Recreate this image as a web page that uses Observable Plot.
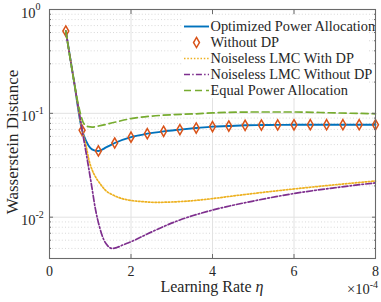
<!DOCTYPE html>
<html>
<head>
<meta charset="utf-8">
<script src="https://cdn.jsdelivr.net/npm/d3@7"></script>
<script src="https://cdn.jsdelivr.net/npm/@observablehq/plot@0.6"></script>
<style>
  html, body { margin: 0; padding: 0; background: white; }
</style>
</head>
<body>
<div id="chart"></div>
<script>
// ---- data (learning rate in units of 1e-4) ----
const optX = [0.4, 0.6, 0.8, 0.9, 1.0, 1.1, 1.2, 1.4, 1.6, 2.0, 2.4, 2.8, 3.2, 3.6, 4.0, 4.4, 4.8, 5.2, 5.6, 6.0, 6.4, 6.8, 7.2, 7.6, 8.0];
const optY = [0.62, 0.205, 0.0687, 0.054, 0.0465, 0.0440, 0.0434, 0.0472, 0.0518, 0.059, 0.0637, 0.0671, 0.0697, 0.0722, 0.0745, 0.0755, 0.0767, 0.0771, 0.0774, 0.0776, 0.0777, 0.0777, 0.0777, 0.0777, 0.0776];

const noDpX = [0.4, 0.8, 1.2, 1.6, 2.0, 2.4, 2.8, 3.2, 3.6, 4.0, 4.4, 4.8, 5.2, 5.6, 6.0, 6.4, 6.8, 7.2, 7.6, 8.0];
const noDpY = [0.62, 0.0687, 0.0434, 0.0518, 0.059, 0.0637, 0.0671, 0.0697, 0.0722, 0.0745, 0.0755, 0.0767, 0.0771, 0.0774, 0.0776, 0.0777, 0.0777, 0.0777, 0.0777, 0.0776];

const lmcDpX = [0.4, 0.6, 0.8, 0.9, 0.97, 1.05, 1.13, 1.25, 1.37, 1.55, 1.78, 2.0, 2.3, 2.6, 3.0, 3.5, 4.0, 4.5, 5.0, 5.5, 6.0, 6.5, 7.0, 7.5, 8.0];
const lmcDpY = [0.62, 0.205, 0.0694, 0.048, 0.0353, 0.0283, 0.0244, 0.0208, 0.0182, 0.0164, 0.0151, 0.0145, 0.0141, 0.0139, 0.0140, 0.0144, 0.0151, 0.0160, 0.0169, 0.0178, 0.0187, 0.0196, 0.0205, 0.0214, 0.0223];

const lmcX = [0.4, 0.6, 0.8, 0.93, 1.03, 1.13, 1.23, 1.33, 1.43, 1.54, 1.65, 1.8, 2.0, 2.3, 2.6, 3.2, 4.0, 5.0, 6.0, 7.0, 8.0];
const lmcY = [0.62, 0.205, 0.0694, 0.0353, 0.0205, 0.0118, 0.0080, 0.0061, 0.0053, 0.0050, 0.0051, 0.0054, 0.0058, 0.0066, 0.0075, 0.0094, 0.0117, 0.0143, 0.0169, 0.0192, 0.0214];

const eqX = [0.4, 0.6, 0.7, 0.76, 0.84, 0.95, 1.05, 1.2, 1.6, 2.0, 2.5, 3.0, 3.6, 4.0, 5.0, 6.0, 7.0, 8.0];
const eqY = [0.62, 0.205, 0.125, 0.099, 0.080, 0.0745, 0.0738, 0.0755, 0.082, 0.089, 0.094, 0.097, 0.099, 0.101, 0.103, 0.103, 0.101, 0.099];

const xTicks = [0, 2, 4, 6, 8];
const yMajor = [1, 0.1, 0.01];
const yMinor = [0.004, 0.005, 0.006, 0.007, 0.008, 0.009,
                0.02, 0.03, 0.04, 0.05, 0.06, 0.07, 0.08, 0.09,
                0.2, 0.3, 0.4, 0.5, 0.6, 0.7, 0.8, 0.9];

const seriesNames = ["Optimized Power Allocation", "Without DP", "Noiseless LMC With DP", "Noiseless LMC Without DP", "Equal Power Allocation"];
const xLabel = "Learning Rate ";
const xLabelSym = "η";
const yLabel = "Wasserstein Distance";

// ---- styling ----
const C = {blue: "#0072BD", orange: "#D95319", yellow: "#EDB120", purple: "#7E2F8E", green: "#77AC30"};
const FONT = "Liberation Serif, Times New Roman, serif";
const dash = {yellow: "1.5,1.8", purple: "6,2.2,1.5,2.2", green: "7,4"};
const LW = 1.7;

const rows = (xs, ys) => xs.map((x, i) => ({x, y: ys[i]}));
const opt = rows(optX, optY), nodp = rows(noDpX, noDpY), lmcdp = rows(lmcDpX, lmcDpY), lmc = rows(lmcX, lmcY), eq = rows(eqX, eqY);

const W = 381, H = 302, ML = 49, MR = 6, MT = 9, MB = 44;
const axisStroke = "#6a6a6a";
const ink = "#262626";

const chart = Plot.plot({
  width: W, height: H,
  marginLeft: ML, marginRight: MR, marginTop: MT, marginBottom: MB,
  style: {fontFamily: FONT, fontSize: "14px", background: "white", color: ink},
  x: {domain: [0, 8]},
  y: {type: "log", domain: [0.004, 1]},
  marks: [
    // grid
    Plot.ruleY(yMinor, {y: d => d, stroke: "#cfcfcf", strokeDasharray: "1,2.2", strokeWidth: 0.8}),
    Plot.ruleY(yMajor, {y: d => d, stroke: "#e2e2e2"}),
    Plot.ruleX(xTicks, {x: d => d, stroke: "#e2e2e2"}),
    // curves
    Plot.line(opt, {x: "x", y: "y", stroke: C.blue, strokeWidth: LW + 0.2, curve: "monotone-x"}),
    Plot.dot(nodp, {x: "x", y: "y", symbol: "diamond", r: 3.1, stroke: C.orange, strokeWidth: 1.5, fill: "none"}),
    Plot.line(lmcdp, {x: "x", y: "y", stroke: C.yellow, strokeWidth: LW, strokeDasharray: dash.yellow, curve: "monotone-x"}),
    Plot.line(lmc, {x: "x", y: "y", stroke: C.purple, strokeWidth: LW, strokeDasharray: dash.purple, curve: "monotone-x"}),
    Plot.line(eq, {x: "x", y: "y", stroke: C.green, strokeWidth: LW, strokeDasharray: dash.green, curve: "monotone-x"}),
    // frame and inward ticks
    Plot.frame({stroke: axisStroke, strokeWidth: 1.1}),
    Plot.axisX(xTicks, {anchor: "bottom", tickSize: 4, dy: -4, tickFormat: () => "", label: null, stroke: axisStroke}),
    Plot.axisX(xTicks, {anchor: "top", tickSize: 4, dy: 4, tickFormat: () => "", label: null, stroke: axisStroke}),
    Plot.axisY(yMajor, {anchor: "left", tickSize: 4, dx: 4, tickFormat: () => "", label: null, stroke: axisStroke}),
    Plot.axisY(yMajor, {anchor: "right", tickSize: 4, dx: -4, tickFormat: () => "", label: null, stroke: axisStroke}),
    Plot.axisY(yMinor, {anchor: "left", tickSize: 2, dx: 2, tickFormat: () => "", label: null, stroke: axisStroke}),
    Plot.axisY(yMinor, {anchor: "right", tickSize: 2, dx: -2, tickFormat: () => "", label: null, stroke: axisStroke}),
    // tick labels
    Plot.axisX(xTicks, {anchor: "bottom", tickSize: 0, tickPadding: 7.5, label: null, fontSize: 14, fill: ink}),
    Plot.text(yMajor, {y: d => d, frameAnchor: "left", text: () => "10", textAnchor: "end", dx: -14, dy: 3.5, fontSize: 14.5, fill: ink}),
    Plot.text(yMajor, {y: d => d, frameAnchor: "left", text: d => String(Math.round(Math.log10(d))), textAnchor: "start", dx: -14, dy: -2.5, fontSize: 10, fill: ink})
  ]
});

const svg = d3.select(chart);
svg.style("font-family", FONT);

// axis labels
const xl = svg.append("text")
  .attr("x", ML + (W - ML - MR) / 2).attr("y", 292)
  .attr("text-anchor", "middle").attr("font-size", 16).attr("fill", ink);
xl.append("tspan").text(xLabel);
xl.append("tspan").attr("font-style", "italic").text(xLabelSym);

svg.append("text")
  .attr("transform", `translate(18,142) rotate(-90)`)
  .attr("text-anchor", "middle").attr("font-size", 17).attr("fill", ink)
  .text(yLabel);

// exponent multiplier
const mult = svg.append("text").attr("x", W - 3).attr("y", 294)
  .attr("text-anchor", "end").attr("font-size", 14.5).attr("fill", ink);
mult.append("tspan").text("×10");
mult.append("tspan").attr("font-size", 10).attr("dy", -6.5).text("-4");

// legend
const lg = svg.append("g");
lg.append("rect").attr("x", 182).attr("y", 15).attr("width", 187).attr("height", 83).attr("fill", "white");
const rowY = [26.5, 42.5, 58.5, 74.5, 90.5];
const lx0 = 184, lx1 = 209;
const styles = [
  {stroke: C.blue, w: LW + 0.2, dash: null},
  {marker: true},
  {stroke: C.yellow, w: LW, dash: dash.yellow},
  {stroke: C.purple, w: LW, dash: dash.purple},
  {stroke: C.green, w: LW, dash: dash.green}
];
seriesNames.forEach((name, i) => {
  const s = styles[i], cy = rowY[i];
  if (s.marker) {
    const sym = d3.symbol(d3.symbolDiamond, Math.PI * 3.1 * 3.1);
    lg.append("path").attr("d", sym()).attr("transform", `translate(${(lx0 + lx1) / 2},${cy})`)
      .attr("fill", "none").attr("stroke", C.orange).attr("stroke-width", 1.5);
  } else {
    lg.append("line").attr("x1", lx0).attr("x2", lx1).attr("y1", cy).attr("y2", cy)
      .attr("stroke", s.stroke).attr("stroke-width", s.w).attr("stroke-dasharray", s.dash);
  }
  lg.append("text").attr("x", 210.5).attr("y", cy + 4.8).attr("text-anchor", "start")
    .attr("font-size", 14.4).attr("fill", ink).text(name);
});

document.getElementById("chart").appendChild(chart);
</script>
</body>
</html>
